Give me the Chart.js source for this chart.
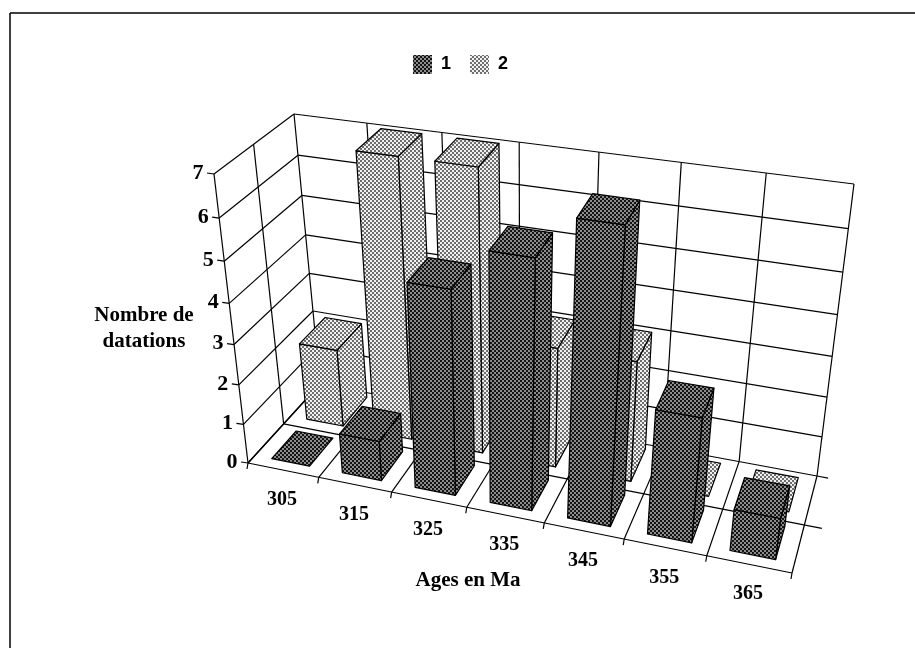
<!DOCTYPE html>
<html>
<head>
<meta charset="utf-8">
<title>Nombre de datations</title>
<script src="https://cdn.jsdelivr.net/npm/chart.js@4"></script>
<style>
    html, body { margin: 0; padding: 0; background: #fff; }
    #wrap { width: 915px; height: 648px; }
</style>
</head>
<body>
<div id="wrap"><canvas id="myChart"></canvas></div>
<script>
const ages = ['305', '315', '325', '335', '345', '355', '365'];
const series1 = [0, 1, 5, 6, 7, 3, 1];
const series2 = [2, 7, 7, 3, 3, 0, 0];
const seriesNames = ['1', '2'];
const valueTicks = [0, 1, 2, 3, 4, 5, 6, 7];

// corners of the 3d box on screen: floor front, floor back, top front, top back
const frame = {
    floorFrontLeft: [248, 463], floorFrontRight: [792, 573],
    floorBackLeft: [320, 384], floorBackRight: [817, 476],
    topFrontLeft: [214, 174], topFrontRight: [832, 262],
    topBackLeft: [294, 114], topBackRight: [854, 184]
};

// perspective squeeze along each direction
const warpX = 1.115, warpDepth = 1.02, warpY = 1.08;
const warp = (t, g) => t / (t + (1 - t) * g);
const mix = (a, b, t) => [a[0] + (b[0] - a[0]) * t, a[1] + (b[1] - a[1]) * t];

// u, d, v all 0..1 : along the ages, into the depth, up the values
function project(u, d, v) {
    const uu = warp(u, warpX), dd = warp(d, warpDepth), vv = warp(v, warpY);
    const floor = mix(mix(frame.floorFrontLeft, frame.floorFrontRight, uu), mix(frame.floorBackLeft, frame.floorBackRight, uu), dd);
    const top = mix(mix(frame.topFrontLeft, frame.topFrontRight, uu), mix(frame.topBackLeft, frame.topBackRight, uu), dd);
    return mix(floor, top, vv);
}

// chart scales -> 0..1
function fracX(chart, idx) {
    const s = chart.scales.x;
    return (s.getPixelForValue(idx) - s.left) / s.width;
}
function fracY(chart, val) {
    const s = chart.scales.y;
    return (s.bottom - s.getPixelForValue(val)) / s.height;
}

function makePattern(bg, dot) {
    const c = document.createElement('canvas');
    c.width = 4; c.height = 4;
    const g = c.getContext('2d');
    g.fillStyle = bg;
    g.fillRect(0, 0, 4, 4);
    g.fillStyle = dot;
    g.fillRect(0, 0, 2, 2);
    g.fillRect(2, 2, 2, 2);
    return g.createPattern(c, 'repeat');
}
const darkFill = makePattern('#8c8c8c', '#141414');
const lightFill = makePattern('#f0f0f0', '#6e6e6e');

function face(ctx, pts, fill) {
    ctx.beginPath();
    pts.forEach((p, i) => i ? ctx.lineTo(p[0], p[1]) : ctx.moveTo(p[0], p[1]));
    ctx.closePath();
    ctx.fillStyle = fill;
    ctx.fill();
    ctx.stroke();
}

// bars drawn as boxes, left to right; first dataset is the front row
class Bar3DController extends Chart.BarController {
    draw() {
        const chart = this.chart, ctx = chart.ctx;
        const row = this.index === 0 ? 0 : 0.5;
        const d0 = row + 0.1, d1 = row + 0.45;
        const fill = this.getDataset().backgroundColor;
        const step = 1 / ages.length;
        ctx.save();
        ctx.strokeStyle = '#000';
        ctx.lineWidth = 1.2;
        ctx.lineJoin = 'round';
        this.getDataset().data.forEach((val, i) => {
            const u = fracX(chart, i);
            const u0 = u - 0.26 * step, u1 = u + 0.28 * step;
            const v = fracY(chart, val);
            if (val > 0) {
                face(ctx, [project(u1, d0, 0), project(u1, d1, 0), project(u1, d1, v), project(u1, d0, v)], fill);
                face(ctx, [project(u0, d0, 0), project(u1, d0, 0), project(u1, d0, v), project(u0, d0, v)], fill);
            }
            face(ctx, [project(u0, d0, v), project(u1, d0, v), project(u1, d1, v), project(u0, d1, v)], fill);
        });
        ctx.restore();
    }
}
Bar3DController.id = 'bar3d';
Bar3DController.defaults = Chart.BarController.defaults;
Chart.register(Bar3DController);

function line(ctx, a, b) {
    ctx.beginPath();
    ctx.moveTo(a[0], a[1]);
    ctx.lineTo(b[0], b[1]);
    ctx.stroke();
}

const boxPlugin = {
    id: 'box',
    beforeDatasetsDraw(chart) {
        const ctx = chart.ctx;
        ctx.save();
        // outer frame of the page
        ctx.strokeStyle = '#000';
        ctx.lineWidth = 1.5;
        line(ctx, [10, 13], [915, 13]);
        line(ctx, [10, 13], [10, 648]);

        ctx.lineWidth = 1.2;
        // value lines on left wall and back wall
        valueTicks.forEach(t => {
            const v = fracY(chart, t);
            line(ctx, project(0, 0, v), project(0, 1, v));
            line(ctx, project(0, 1, v), project(1, 1, v));
            const p = project(0, 0, v);
            line(ctx, p, [p[0] - 7, p[1] - 1]);
        });
        // age lines on back wall and floor
        const n = ages.length;
        for (let i = 0; i <= n; i++) {
            const u = i / n;
            line(ctx, project(u, 1, 0), project(u, 1, 1));
            line(ctx, project(u, 0, 0), project(u, 1, 0));
            const p = project(u, 0, 0);
            line(ctx, p, [p[0] - 1, p[1] + 6]);
        }
        // second lines, front edge, mid floor, left wall
        line(ctx, project(0, 0, 0), project(1, 0, 0));
        line(ctx, project(0, 0.5, 0), project(1.03, 0.5, 0));
        line(ctx, project(1, 1, 0), project(1.02, 1, 0));
        line(ctx, project(0, 0, 0), project(0, 0, 1));
        line(ctx, project(0, 0.5, 0), project(0, 0.5, 1));

        // tick labels
        ctx.fillStyle = '#000';
        ctx.textAlign = 'center';
        ctx.textBaseline = 'middle';
        ctx.font = 'bold 22px "Liberation Serif"';
        chart.scales.y.ticks.forEach(t => {
            const p = project(0, 0, fracY(chart, t.value));
            ctx.fillText(String(t.value), p[0] - 16, p[1] - 1);
        });
        ctx.font = 'bold 20px "Liberation Serif"';
        ages.forEach((a, i) => {
            const p = project(fracX(chart, i), 0, 0);
            ctx.fillText(a, p[0] - 1, p[1] + 30);
        });

        // axis titles
        ctx.font = 'bold 21px "Liberation Serif"';
        ctx.fillText('Nombre de', 144, 316);
        ctx.fillText('datations', 144, 342);
        ctx.fillText('Ages en Ma', 468, 581);
        ctx.restore();
    }
};

function showGraph() {
    const ctx = document.getElementById('myChart');

    const data = {
        labels: ages,
        datasets: [
            { type: 'bar3d', label: seriesNames[0], data: series1, backgroundColor: darkFill },
            { type: 'bar3d', label: seriesNames[1], data: series2, backgroundColor: lightFill }
        ]
    };

    const options = {
        responsive: true,
        maintainAspectRatio: false,
        animation: false,
        layout: { padding: { top: 36, left: 6 } },
        scales: {
            x: { type: 'category', display: false },
            y: { display: false, min: 0, max: 7, ticks: { stepSize: 1 } }
        },
        plugins: {
            tooltip: { enabled: false },
            legend: {
                position: 'top',
                labels: {
                    boxWidth: 19,
                    boxHeight: 19,
                    padding: 19,
                    color: '#000',
                    font: { family: '"Liberation Sans"', size: 18, weight: 'bold' }
                }
            }
        }
    };

    new Chart(ctx, { type: 'bar', data: data, options: options, plugins: [boxPlugin] });
}

showGraph();
</script>
</body>
</html>
